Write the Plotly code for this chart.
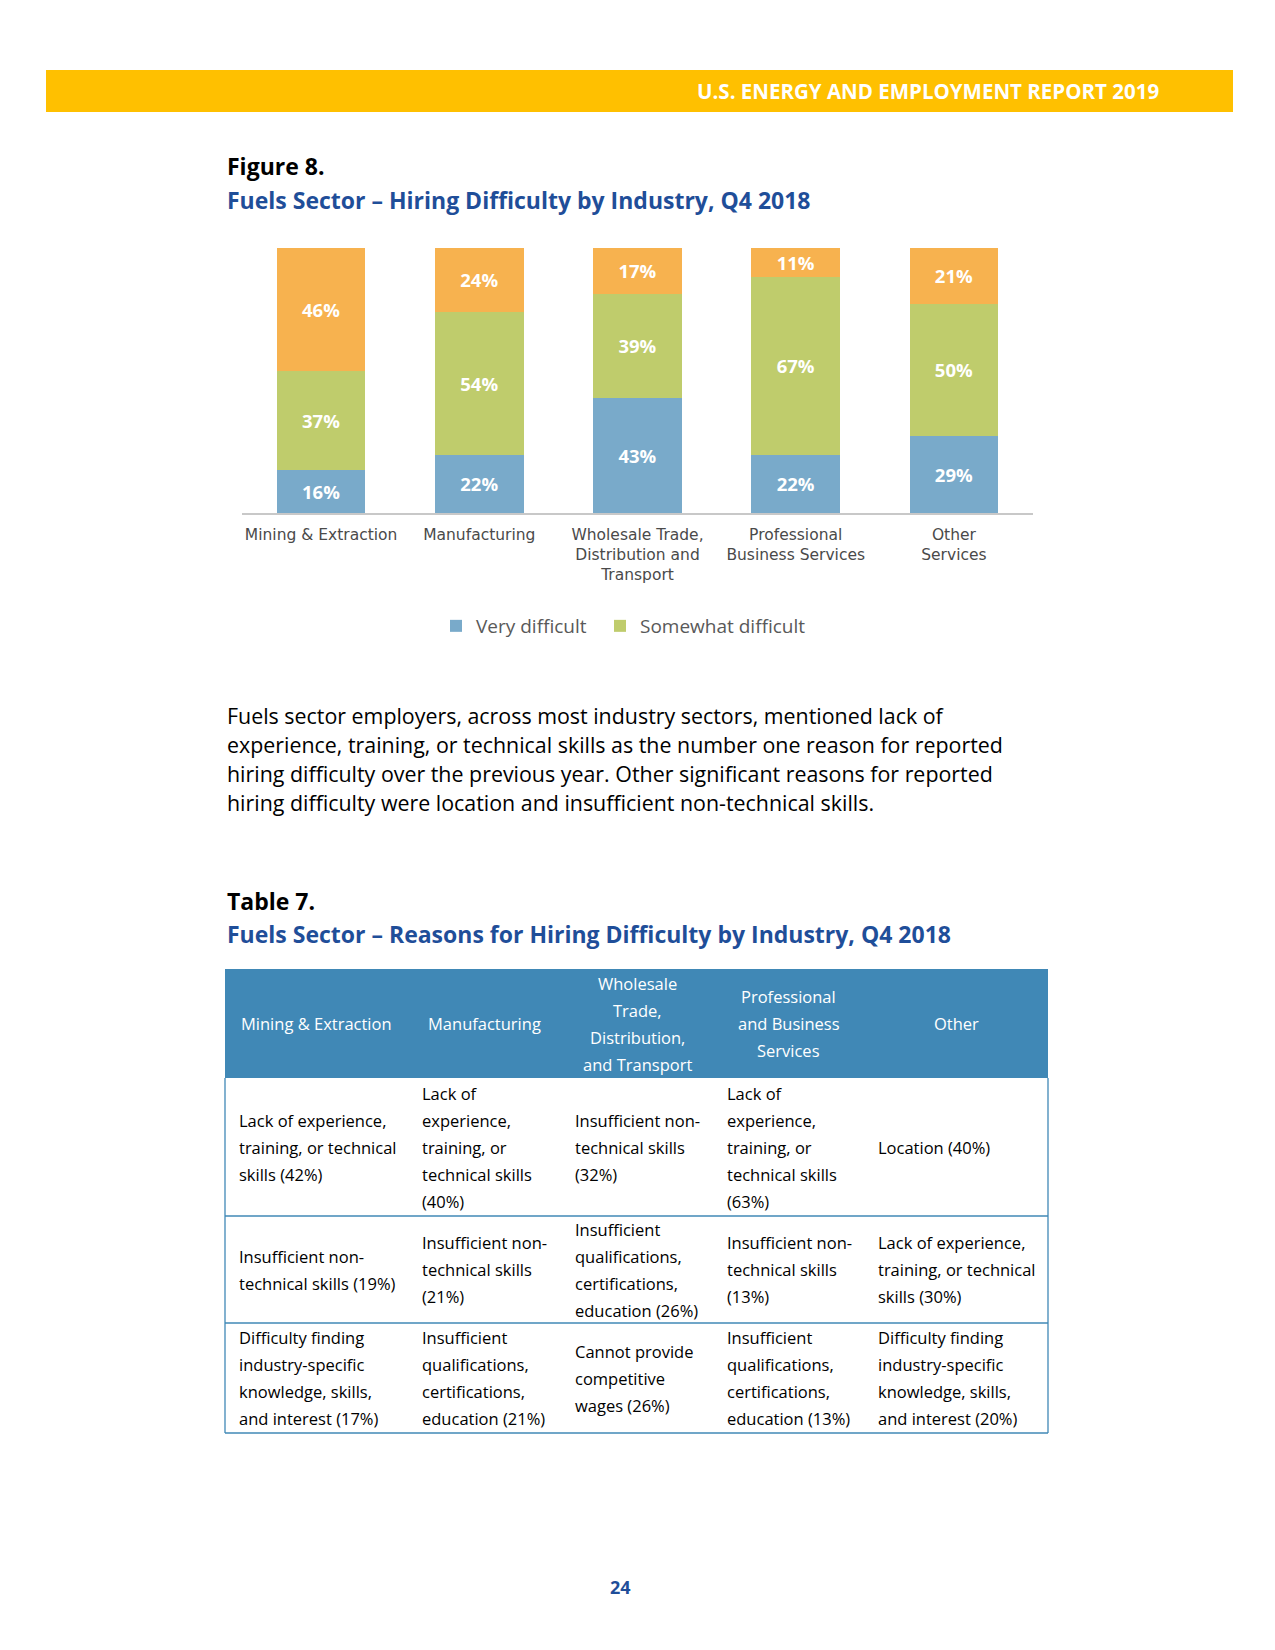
import plotly.graph_objects as go

# page is placed with an 8px body margin, so the figure is a bit smaller and
# all layout coordinates are given in page pixels and shifted by OFF.
OFF = 8
W, H = 1275 - OFF, 1650 - OFF

# ---------------- data ----------------
categories = ["Mining & Extraction", "Manufacturing",
              "Wholesale Trade,<br>Distribution and<br>Transport",
              "Professional<br>Business Services", "Other<br>Services"]
very_difficult = [16, 22, 43, 22, 29]
somewhat_difficult = [37, 54, 39, 67, 50]
not_difficult = [46, 24, 17, 11, 21]

series_names = ["Very difficult", "Somewhat difficult", "Not at all difficult"]
series_colors = ["#79AACA", "#BFCC6C", "#F7B24F"]
series_legend = [True, True, False]

table_header = [["Mining & Extraction"], ["Manufacturing"],
                ["Wholesale", "Trade,", "Distribution,", "and Transport"],
                ["Professional", "and Business", "Services"], ["Other"]]
table_rows = [
    [["Lack of experience,", "training, or technical", "skills (42%)"],
     ["Lack of", "experience,", "training, or", "technical skills", "(40%)"],
     ["Insufficient non-", "technical skills", "(32%)"],
     ["Lack of", "experience,", "training, or", "technical skills", "(63%)"],
     ["Location (40%)"]],
    [["Insufficient non-", "technical skills (19%)"],
     ["Insufficient non-", "technical skills", "(21%)"],
     ["Insufficient", "qualifications,", "certifications,", "education (26%)"],
     ["Insufficient non-", "technical skills", "(13%)"],
     ["Lack of experience,", "training, or technical", "skills (30%)"]],
    [["Difficulty finding", "industry-specific", "knowledge, skills,", "and interest (17%)"],
     ["Insufficient", "qualifications,", "certifications,", "education (21%)"],
     ["Cannot provide", "competitive", "wages (26%)"],
     ["Insufficient", "qualifications,", "certifications,", "education (13%)"],
     ["Difficulty finding", "industry-specific", "knowledge, skills,", "and interest (20%)"]],
]

paragraph = [
    "Fuels sector employers, across most industry sectors, mentioned lack of",
    "experience, training, or technical skills as the number one reason for reported",
    "hiring difficulty over the previous year. Other significant reasons for reported",
    "hiring difficulty were location and insufficient non-technical skills.",
]

# ---------------- helpers ----------------
def px(x):
    return (x - OFF) / W

def py(y):
    return 1 - (y - OFF) / H

BLUE = "#1F4E99"
HEAD = "#4088B6"
FONT = "Open Sans"
legend_widths = [119, 175, 100]

fig = go.Figure()
for name, vals, col, leg, lw in zip(series_names,
                                    [very_difficult, somewhat_difficult, not_difficult],
                                    series_colors, series_legend, legend_widths):
    fig.add_trace(go.Bar(
        x=categories, y=vals, name=name, marker=dict(color=col, line=dict(width=0)),
        text=[f"{v}%" for v in vals], textposition="inside", insidetextanchor="middle",
        textangle=0, constraintext="none",
        textfont=dict(color="white", size=18.5, family=FONT, weight="bold"),
        showlegend=leg, legendwidth=lw, hoverinfo="skip"))

annotations = []
shapes = []

def ann(text, x, y, anchor, size, color):
    annotations.append(dict(text=text, xref="paper", yref="paper", x=px(x), y=py(y),
                            xanchor=anchor, yanchor="middle", showarrow=False,
                            font=dict(family=FONT, size=size, color=color)))

# banner
shapes.append(dict(type="rect", xref="paper", yref="paper", x0=px(46), x1=px(1233),
                   y0=py(112), y1=py(70), fillcolor="#FFC000", line=dict(width=0), layer="below"))
ann("<b>U.S. ENERGY AND EMPLOYMENT REPORT 2019</b>", 1161, 91, "right", 20.5, "white")

# figure titles
ann("<b>Figure 8.</b>", 225, 166, "left", 23, "black")
ann("<b>Fuels Sector – Hiring Difficulty by Industry, Q4 2018</b>", 225, 200, "left", 23, BLUE)

# paragraph
for i, line in enumerate(paragraph):
    ann(line, 225, 715 + 29 * i, "left", 21.4, "black")

# table titles
ann("<b>Table 7.</b>", 225, 901, "left", 23, "black")
ann("<b>Fuels Sector – Reasons for Hiring Difficulty by Industry, Q4 2018</b>", 225, 934, "left", 23, BLUE)

# table geometry
col_edges = [225, 408, 561, 713, 864, 1048]
row_edges = [969, 1078, 1216, 1323, 1433]
LS = 27
TS = 16.5
shapes.append(dict(type="rect", xref="paper", yref="paper", x0=px(225), x1=px(1048),
                   y0=py(1078), y1=py(969), fillcolor=HEAD, line=dict(width=0), layer="below"))
for yv in row_edges[2:]:
    shapes.append(dict(type="line", xref="paper", yref="paper", x0=px(225), x1=px(1048),
                       y0=py(yv), y1=py(yv), line=dict(color=HEAD, width=1.3)))
for xv in (225, 1048):
    shapes.append(dict(type="line", xref="paper", yref="paper", x0=px(xv), x1=px(xv),
                       y0=py(1078), y1=py(row_edges[-1]), line=dict(color=HEAD, width=1.3)))

def cell(lines, cx, cy, anchor, color):
    n = len(lines)
    for k, t in enumerate(lines):
        ann(t, cx, cy + (k - (n - 1) / 2) * LS, anchor, TS, color)

for c, lines in enumerate(table_header):
    cell(lines, (col_edges[c] + col_edges[c + 1]) / 2, (row_edges[0] + row_edges[1]) / 2, "center", "white")
for r, row in enumerate(table_rows):
    cy = (row_edges[r + 1] + row_edges[r + 2]) / 2
    for c, lines in enumerate(row):
        cell(lines, col_edges[c] + 12, cy, "left", "black")

# page number
ann("<b>24</b>", 620, 1587, "center", 18, BLUE)

fig.update_layout(
    width=W, height=H, margin=dict(l=0, r=0, t=0, b=0),
    paper_bgcolor="white", plot_bgcolor="white",
    barmode="stack", barnorm="percent", bargap=0.44,
    xaxis=dict(domain=[px(242), px(1033)], showline=True, linecolor="#C8C8C8", linewidth=2,
               showgrid=False, ticks="", tickangle=0, ticklabelstandoff=6,
               tickfont=dict(family="DejaVu Sans", size=15.5, color="#4A4A4A"),
               fixedrange=True),
    yaxis=dict(domain=[py(513), py(248)], range=[0, 100], visible=False, showgrid=False, fixedrange=True),
    legend=dict(orientation="h", x=px(436), xanchor="left", y=py(626), yanchor="middle",
                font=dict(family=FONT, size=19, color="#595959"), traceorder="normal",
                itemwidth=30, bgcolor="rgba(0,0,0,0)"),
    shapes=shapes, annotations=annotations, showlegend=True,
)

fig.write_html("out.html")
